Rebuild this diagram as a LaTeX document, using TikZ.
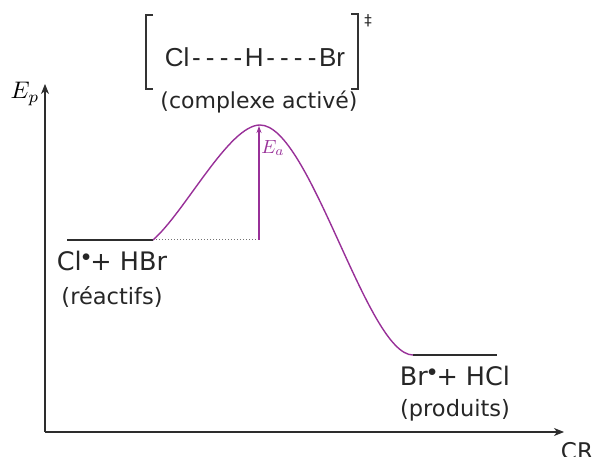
\documentclass[tikz,border=0pt]{standalone}
\usepackage{fontspec}
\setmainfont{DejaVu Sans}
\newfontfamily\arialfont{Liberation Sans}
\usetikzlibrary{arrows.meta}
\definecolor{purp}{RGB}{152,48,152}
\definecolor{lev}{RGB}{45,45,45}
\newcommand{\hyk}{\kern2.6pt-\kern2.6pt}
\newcommand{\rad}{$^{\scriptstyle\bullet}$\kern-0.5pt}
\tikzset{
  axis/.style={draw=lev, line width=1.1pt, -{Stealth[length=10pt,width=8pt,inset=3pt]}},
  level/.style={draw=lev, line width=2pt},
  curve/.style={draw=purp, line width=1.4pt},
  lbl/.style={inner sep=0pt, text=black!85},
  brk/.style={draw=black!80, line width=1.6pt},
}
\begin{document}
\begin{tikzpicture}[x=1pt,y=-1pt]
\useasboundingbox (0,0) rectangle (595,457);
% axes
\coordinate (O) at (45,432);
\coordinate (Ytop) at (45,84);
\coordinate (Xend) at (564,432);
\draw[axis] (O) -- (Ytop);
\draw[axis] (O) -- (Xend);
\node[lbl, text=black, scale=2.4, transform shape] (ep) at (25,94) {$E_p$};
\node[lbl, font=\fontsize{23}{26}\selectfont] (cr) at (577,451) {CR};
% levels
\coordinate (r1) at (67,240);
\coordinate (r2) at (153,240);
\coordinate (top) at (260,125);
\coordinate (base) at (259,240);
\coordinate (atop) at (259,126);
\coordinate (p1) at (413,355);
\coordinate (p2) at (497,355);
\draw[level] (r1) -- (r2);
\draw[level] (p1) -- (p2);
\draw[draw=black!55, line width=1pt, dotted] (r2) -- (base);
\draw[curve] (r2) .. controls (185,212) and (229,125) .. (top)
  .. controls (310,125) and (367,355) .. (p1);
\draw[draw=purp, line width=1.1pt, -{Stealth[length=7pt,width=5pt]}] (base) -- (atop);
\node[lbl, text=purp, scale=1.9, transform shape] (ea) at (273,148) {$E_a$};
% labels
\node[lbl, font=\fontsize{25.5}{28}\selectfont] (react) at (112,261) {Cl\rad+ HBr};
\node[lbl, font=\fontsize{22.5}{26}\selectfont] (reactt) at (112,297) {(réactifs)};
\node[lbl, font=\fontsize{25.5}{28}\selectfont] (prod) at (455,376) {Br\rad+ HCl};
\node[lbl, font=\fontsize{22.5}{26}\selectfont] (prodt) at (455,410) {(produits)};
% activated complex
\node[lbl, font=\arialfont\fontsize{26}{28}\selectfont] (cx) at (255,57) {Cl\hyk\hyk\hyk\hyk H\hyk\hyk\hyk\hyk Br};
\node[lbl, font=\fontsize{22}{26}\selectfont] (cxt) at (259,102) {(complexe activé)};
\draw[brk] (153,15) -- (146,15) -- (146,89) -- (153,89);
\draw[brk] (351,14) -- (358,14) -- (358,89) -- (351,89);
\node[lbl, font=\fontsize{15}{16}\selectfont] (dag) at (368,21) {‡};
\end{tikzpicture}
\end{document}
